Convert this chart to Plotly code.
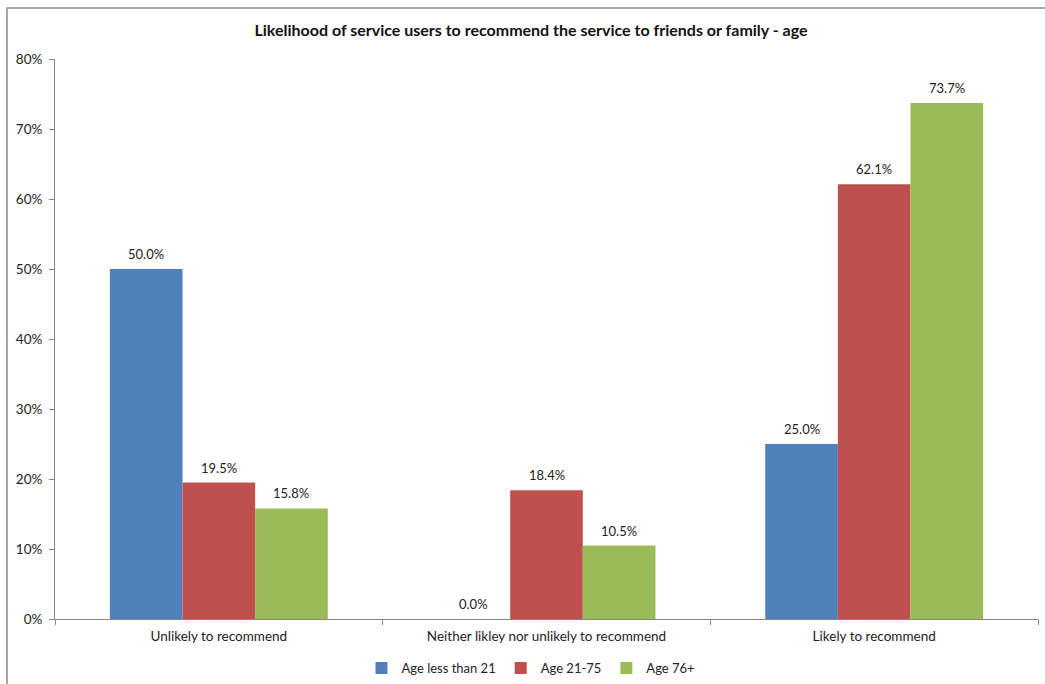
import plotly.graph_objects as go

categories = ["Unlikely to recommend", "Neither likley nor unlikely to recommend", "Likely to recommend"]
series_names = ["Age less than 21", "Age 21-75", "Age 76+"]
age_under_21 = [50.0, 0.0, 25.0]
age_21_75 = [19.5, 18.4, 62.1]
age_76_plus = [15.8, 10.5, 73.7]
colors = ["#4F81BD", "#C0504D", "#9BBB59"]

W, H = 1045, 684
L, R, T, B = 55, 7, 59, 65
pw, ph = W - L - R, H - T - B
BARGAP = 0.335

FONT = "Lato, Carlito, Calibri, sans-serif"

all_series = [age_under_21, age_21_75, age_76_plus]

fig = go.Figure()
for name, vals, col in zip(series_names, all_series, colors):
    fig.add_trace(go.Bar(
        x=categories, y=vals, name=name,
        marker=dict(color=col, line=dict(width=0)),
    ))

# value labels above each bar, shifted horizontally to the bar's slot in its group
cat_px = pw / len(categories)
bar_px = cat_px * (1 - BARGAP) / len(all_series)
for i, vals in enumerate(all_series):
    shift = (i - (len(all_series) - 1) / 2) * bar_px
    for cat, v in zip(categories, vals):
        fig.add_annotation(x=cat, y=v, xref="x", yref="y", text=f"{v:.1f}%",
                           showarrow=False, xanchor="center", yanchor="bottom",
                           xshift=shift, yshift=5,
                           font=dict(family=FONT, size=13, color="#222222"))

# outer chart border (open on the right and bottom edges)
def px_to_paper(x, y):
    return (x - L) / pw, (H - B - y) / ph

x0, y0 = px_to_paper(7, 8)
x1, y1 = px_to_paper(1060, 700)
fig.add_shape(type="rect", xref="paper", yref="paper", x0=x0, y0=y1, x1=x1, y1=y0,
              line=dict(color="#8c8c8c", width=1.5), fillcolor="rgba(0,0,0,0)", layer="below")

fig.update_layout(
    width=W, height=H,
    margin=dict(l=L, r=R, t=T, b=B, autoexpand=False),
    paper_bgcolor="white", plot_bgcolor="white",
    barmode="group", bargap=BARGAP, bargroupgap=0,
    font=dict(family=FONT, size=13, color="#222222"),
    title=dict(text="<b>Likelihood of service users to recommend the service to friends or family - age</b>",
               x=(531 - L) / pw, xref="paper", xanchor="center",
               y=1 - 30 / H, yref="container", yanchor="middle",
               font=dict(family=FONT, size=16, color="#111111")),
    showlegend=True,
    legend=dict(orientation="h", x=(531 - L) / pw, xanchor="center",
                y=(H - B - 668) / ph, yanchor="middle",
                font=dict(family=FONT, size=13), itemwidth=30, traceorder="normal"),
    yaxis=dict(range=[0, 80], dtick=10, ticksuffix="%", showgrid=False, zeroline=False,
               showline=True, linecolor="#868686", linewidth=1,
               ticks="outside", ticklen=5, tickcolor="#868686", ticklabelstandoff=4,
               tickfont=dict(family=FONT, size=13.5)),
    xaxis=dict(showgrid=False, showline=True, linecolor="#868686", linewidth=1,
               ticks="outside", ticklen=5, tickcolor="#868686", tickson="boundaries",
               ticklabelstandoff=5,
               tickfont=dict(family=FONT, size=13.5)),
)

fig.write_html("out.html")
